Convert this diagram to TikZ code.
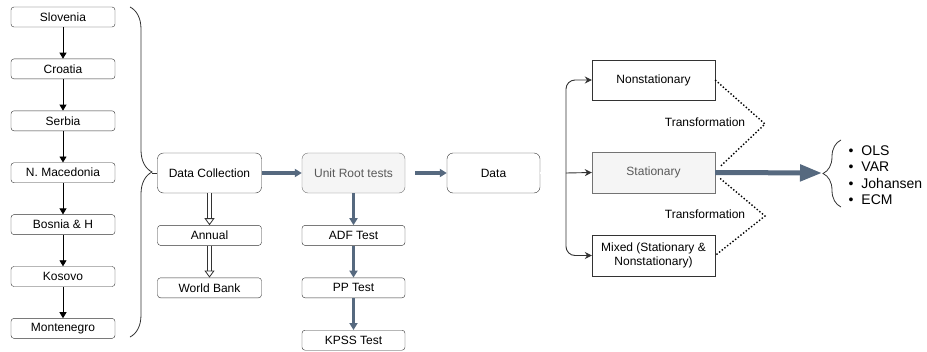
\documentclass[tikz,border=0pt]{standalone}
\usepackage{fontspec}
\setmainfont{Liberation Sans}
\usetikzlibrary{arrows.meta,positioning,calc,decorations.pathreplacing}
\definecolor{slate}{HTML}{56697F}
\definecolor{paleg}{HTML}{F5F5F5}
\definecolor{ink}{HTML}{333333}
\tikzset{small/.style={draw=ink,rounded corners=3pt,minimum width=104pt,minimum height=20pt,
  inner sep=0pt,font=\fontsize{12}{14}\selectfont},
  big/.style={small,minimum height=40pt,rounded corners=6pt},
  sq/.style={draw=ink,minimum width=123pt,minimum height=40pt,inner sep=0pt,align=center,
  font=\fontsize{12}{14}\selectfont},
  grey/.style={fill=paleg,draw=black!55,text=black!65},
  link/.style={-{Triangle[length=6pt,width=7pt]},draw=black,line width=0.8pt},
  fat/.style={-{Triangle[length=7pt,width=8pt]},draw=slate,line width=3.8pt},
  hollow/.style={-{Triangle[open,length=7pt,width=10pt]},draw=ink,double=white,
  double distance=2.5pt,line width=0.8pt},
  branch/.style={-{Stealth[length=7pt,width=7pt]},draw=ink,line width=0.9pt,rounded corners=9pt},
  trans/.style={dotted,line width=1.4pt}}

\begin{document}
\begin{tikzpicture}[x=1pt,y=-1pt]
\useasboundingbox (0,0) rectangle (927,351);
% countries
\node[small] (slo) at (63,17) {Slovenia};
\node[small,below=31.5pt of slo] (cro) {Croatia};
\node[small,below=31.5pt of cro] (ser) {Serbia};
\node[small,below=31.5pt of ser] (mac) {N. Macedonia};
\node[small,below=31.5pt of mac] (bih) {Bosnia \& H};
\node[small,below=31.5pt of bih] (kos) {Kosovo};
\node[small,below=31.5pt of kos] (mne) {Montenegro};
\foreach \a/\b in {slo/cro,cro/ser,ser/mac,mac/bih,bih/kos,kos/mne}
  \draw[link] (\a)--(\b);
\draw[ink,line width=0.8pt,decorate,decoration={brace,amplitude=22pt}] (130,7)--(130,337);
% collection and tests
\node[big] (coll) at (209.5,173) {Data Collection};
\node[small,below=32pt of coll] (ann) {Annual};
\node[small,below=32pt of ann] (wb) {World Bank};
\draw[ink,line width=0.8pt] (152,173)--(coll.west);
\draw[hollow] (coll)--(ann);
\draw[hollow] (ann)--(wb);
\node[big,grey,minimum width=103pt] (unit) at (353.5,173) {Unit Root tests};
\node[small,minimum width=103pt,below=32pt of unit] (adf) {ADF Test};
\node[small,minimum width=103pt,below=32pt of adf] (pp) {PP Test};
\node[small,minimum width=103pt,below=32pt of pp] (kpss) {KPSS Test};
\draw[fat] (coll)--(unit);
\draw[fat] (unit)--(adf);
\draw[fat] (adf)--(pp);
\draw[fat] (pp)--(kpss);
% data and its kinds
\node[big,minimum width=93pt] (data) at (493.5,173) {Data};
\draw[fat] ([xshift=10pt]unit.east)--(data);
\node[sq,grey,minimum height=41pt] (stat) at (653.5,172.5) {Stationary};
\node[sq] (nons) at (653.5,80) {Nonstationary};
\node[sq,minimum height=41pt] (mix) at (653.5,255.5) {Mixed (Stationary \&\\Nonstationary)};
\coordinate (fork) at (566,173);
\draw[ink,double=white,double distance=1.2pt,line width=0.6pt] (data.east)--(fork);
\draw[branch] (fork) |- (nons.west);
\draw[branch] (fork) |- (mix.west);
\draw[branch] (fork)--(stat.west);
\node[font=\fontsize{12}{14}\selectfont] (tr1) at (705,122) {Transformation};
\node[font=\fontsize{12}{14}\selectfont] (tr2) at (705,214) {Transformation};
\coordinate (zup) at (765,124);
\coordinate (zdn) at (765,216);
\draw[trans] (nons.east)--(zup)--($(stat.east)+(5,-6)$);
\draw[trans] ($(stat.east)+(5,6)$)--(zdn)--(mix.east);
% methods
\draw[ink,line width=0.8pt,decorate,decoration={brace,amplitude=18pt}] (841,207)--(841,140);
\coordinate (mtip) at (822,173);
\draw[-{Triangle[length=22pt,width=16pt]},draw=slate,line width=5pt] (stat.east)--(mtip);
\node[align=left,anchor=west,font=\fontsize{14}{16.5}\selectfont] (meth) at (845,175)
  {\textbullet\hspace{8pt}OLS\\\textbullet\hspace{8pt}VAR\\\textbullet\hspace{8pt}Johansen\\\textbullet\hspace{8pt}ECM};
\end{tikzpicture}
\end{document}
